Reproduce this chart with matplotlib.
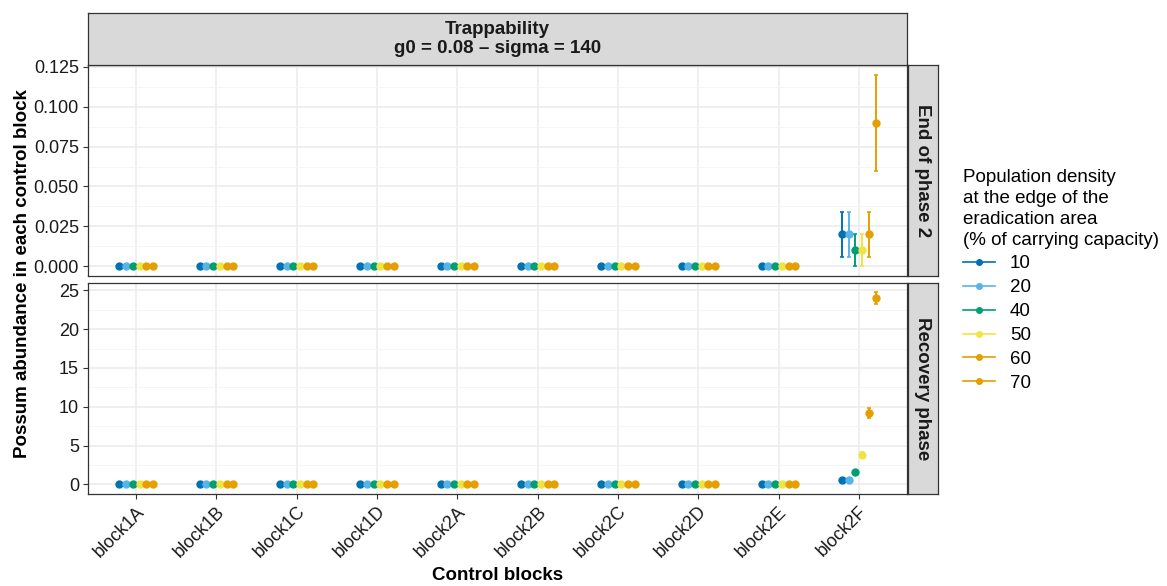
import matplotlib
matplotlib.use("Agg")
import matplotlib.pyplot as plt
from matplotlib.lines import Line2D
import numpy as np

plt.rcParams['font.family'] = ['Liberation Sans', 'DejaVu Sans']

blocks = ["block1A", "block1B", "block1C", "block1D", "block2A",
          "block2B", "block2C", "block2D", "block2E", "block2F"]
densities = ["10", "20", "40", "50", "60", "70"]
colors = ["#0072B2", "#56B4E9", "#009E73", "#F0E442", "#E69F00", "#E69F00"]

# End of phase 2: mean, lower, upper per density (only block2F non-zero)
end_mean = {
    "10": [0, 0, 0, 0, 0, 0, 0, 0, 0, 0.020],
    "20": [0, 0, 0, 0, 0, 0, 0, 0, 0, 0.020],
    "40": [0, 0, 0, 0, 0, 0, 0, 0, 0, 0.010],
    "50": [0, 0, 0, 0, 0, 0, 0, 0, 0, 0.010],
    "60": [0, 0, 0, 0, 0, 0, 0, 0, 0, 0.020],
    "70": [0, 0, 0, 0, 0, 0, 0, 0, 0, 0.090],
}
end_lo = {
    "10": [0, 0, 0, 0, 0, 0, 0, 0, 0, 0.0058],
    "20": [0, 0, 0, 0, 0, 0, 0, 0, 0, 0.0058],
    "40": [0, 0, 0, 0, 0, 0, 0, 0, 0, 0.0],
    "50": [0, 0, 0, 0, 0, 0, 0, 0, 0, 0.0],
    "60": [0, 0, 0, 0, 0, 0, 0, 0, 0, 0.0058],
    "70": [0, 0, 0, 0, 0, 0, 0, 0, 0, 0.060],
}
end_hi = {
    "10": [0, 0, 0, 0, 0, 0, 0, 0, 0, 0.034],
    "20": [0, 0, 0, 0, 0, 0, 0, 0, 0, 0.034],
    "40": [0, 0, 0, 0, 0, 0, 0, 0, 0, 0.020],
    "50": [0, 0, 0, 0, 0, 0, 0, 0, 0, 0.020],
    "60": [0, 0, 0, 0, 0, 0, 0, 0, 0, 0.034],
    "70": [0, 0, 0, 0, 0, 0, 0, 0, 0, 0.120],
}

# Recovery phase
rec_mean = {
    "10": [0, 0, 0, 0, 0, 0, 0, 0, 0, 0.61],
    "20": [0, 0, 0, 0, 0, 0, 0, 0, 0, 0.61],
    "40": [0, 0, 0, 0, 0, 0, 0, 0, 0, 1.64],
    "50": [0, 0, 0, 0, 0, 0, 0, 0, 0, 3.85],
    "60": [0, 0, 0, 0, 0, 0, 0, 0, 0, 9.15],
    "70": [0, 0, 0, 0, 0, 0, 0, 0, 0, 24.05],
}
rec_lo = {
    "10": [0, 0, 0, 0, 0, 0, 0, 0, 0, 0.55],
    "20": [0, 0, 0, 0, 0, 0, 0, 0, 0, 0.55],
    "40": [0, 0, 0, 0, 0, 0, 0, 0, 0, 1.50],
    "50": [0, 0, 0, 0, 0, 0, 0, 0, 0, 3.55],
    "60": [0, 0, 0, 0, 0, 0, 0, 0, 0, 8.50],
    "70": [0, 0, 0, 0, 0, 0, 0, 0, 0, 23.30],
}
rec_hi = {
    "10": [0, 0, 0, 0, 0, 0, 0, 0, 0, 0.67],
    "20": [0, 0, 0, 0, 0, 0, 0, 0, 0, 0.67],
    "40": [0, 0, 0, 0, 0, 0, 0, 0, 0, 1.78],
    "50": [0, 0, 0, 0, 0, 0, 0, 0, 0, 4.15],
    "60": [0, 0, 0, 0, 0, 0, 0, 0, 0, 9.80],
    "70": [0, 0, 0, 0, 0, 0, 0, 0, 0, 24.85],
}

fig = plt.figure(figsize=(11.67, 5.86), dpi=100)
W, H = 1167, 586
L, R = 88 / W, 907 / W
ax1 = fig.add_axes([L, 1 - 276 / H, R - L, (276 - 65) / H])
ax2 = fig.add_axes([L, 1 - 494 / H, R - L, (494 - 283) / H])

x = np.arange(len(blocks))
dodge = 0.5
n = len(densities)
FS = 13
TFS = 13.5


def draw(ax, mean, lo, hi):
    for i, d in enumerate(densities):
        off = (i - (n - 1) / 2) * dodge / n
        xs = x + off
        m = np.array(mean[d])
        ax.errorbar(xs, m, yerr=[m - np.array(lo[d]), np.array(hi[d]) - m],
                    fmt='o', color=colors[i], ms=5, elinewidth=1.4,
                    capsize=1.5, capthick=1.2, zorder=3)
    ax.set_xlim(-0.6, len(blocks) - 0.4)
    ax.set_xticks(x)
    ax.grid(which='major', color='#EBEBEB', lw=1.1)
    ax.grid(which='minor', axis='y', color='#F4F4F4', lw=0.6)
    ax.set_axisbelow(True)
    for s in ax.spines.values():
        s.set_color('#333333')
        s.set_linewidth(0.9)
    ax.tick_params(axis='both', labelsize=FS, color='#333333', length=3.5,
                   labelcolor='#1a1a1a', pad=3)
    ax.tick_params(which='minor', length=0)


draw(ax1, end_mean, end_lo, end_hi)
draw(ax2, rec_mean, rec_lo, rec_hi)

ax1.set_ylim(-0.006, 0.126)
ax1.set_yticks([0, 0.025, 0.05, 0.075, 0.1, 0.125])
ax1.set_yticklabels(["0.000", "0.025", "0.050", "0.075", "0.100", "0.125"])
ax1.set_yticks(np.arange(0.0125, 0.126, 0.025), minor=True)
ax1.tick_params(axis='x', length=0, labelbottom=False)

ax2.set_ylim(-1.24, 25.95)
ax2.set_yticks([0, 5, 10, 15, 20, 25])
ax2.set_yticks(np.arange(2.5, 25.9, 5), minor=True)
ax2.set_xticklabels(blocks, rotation=45, ha='right', rotation_mode='anchor')
ax2.set_xlabel("Control blocks", fontsize=TFS, fontweight='bold', labelpad=4)

fig.text(0.0195, (1 - 274 / H), "Possum abundance in each control block",
         rotation=90, ha='center', va='center', fontsize=TFS, fontweight='bold')

# facet strips
top = fig.add_axes([L, 1 - 65 / H, R - L, (65 - 13) / H])
top.set_xticks([])
top.set_yticks([])
top.set_facecolor('#D9D9D9')
for s in top.spines.values():
    s.set_color('#333333')
    s.set_linewidth(0.9)
top.text(0.5, 0.5, "Trappability\ng0 = 0.08 \u2013 sigma = 140", ha='center',
         va='center', fontsize=TFS, fontweight='bold', color='#1a1a1a',
         transform=top.transAxes, linespacing=1.15)

for ax, lab in [(ax1, "End of phase 2"), (ax2, "Recovery phase")]:
    pos = ax.get_position()
    st = fig.add_axes([pos.x1 + 1 / W, pos.y0, 30 / W, pos.height])
    st.set_xticks([])
    st.set_yticks([])
    st.set_facecolor('#D9D9D9')
    for s in st.spines.values():
        s.set_color('#333333')
        s.set_linewidth(0.9)
    st.text(0.5, 0.5, lab, rotation=-90, ha='center', va='center',
            fontsize=TFS, fontweight='bold', color='#1a1a1a',
            transform=st.transAxes)

handles = [Line2D([0], [0], color=c, marker='o', ms=4, lw=1.2) for c in colors]
leg = fig.legend(handles, densities, loc='upper left',
                 bbox_to_anchor=(946 / W, 1 - 152 / H), frameon=False,
                 fontsize=13.5, title_fontsize=13.5, handlelength=1.7,
                 labelspacing=0.36, handletextpad=0.8,
                 title="Population density\nat the edge of the\neradication area\n(% of carrying capacity)")
leg._legend_box.align = "left"
leg.get_title().set_linespacing(1.3)

fig.savefig("out.png", dpi=100)
